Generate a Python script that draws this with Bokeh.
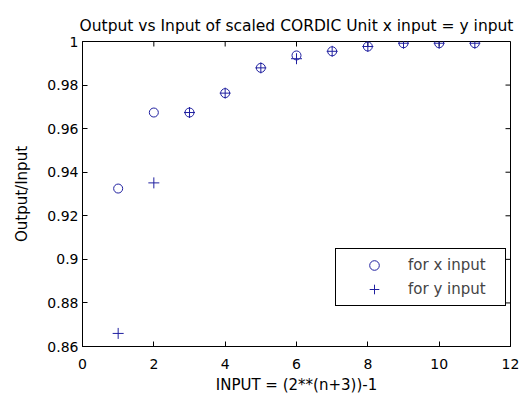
import math
from bokeh.plotting import figure
from bokeh.models import Range1d, FixedTicker, Legend, LegendItem
from bokeh.embed import file_html
from bokeh.resources import INLINE

# ---- data ----
n_values = [1, 2, 3, 4, 5, 6, 7, 8, 9, 10, 11]
x_input_ratio = [0.9325, 0.9674, 0.9674, 0.9763, 0.9879, 0.9936, 0.9955, 0.9977, 0.9992, 0.9992, 0.9992]
y_input_ratio = [0.8660, 0.9351, 0.9674, 0.9763, 0.9879, 0.9921, 0.9955, 0.9977, 0.9992, 0.9992, 0.9992]

x_ticks = [0, 2, 4, 6, 8, 10, 12]
y_ticks = [0.86, 0.88, 0.90, 0.92, 0.94, 0.96, 0.98, 1.0]
y_tick_labels = ["0.86", "0.88", "0.9", "0.92", "0.94", "0.96", "0.98", "1"]

title_text = "Output vs Input of scaled CORDIC Unit x input = y input"
x_label = "INPUT = (2**(n+3))-1"
y_label = "Output/Input"
legend_labels = ["for x input", "for y input"]

FONT = "DejaVu Sans"
MARK = "#2020a0"

x_min, x_max = x_ticks[0], x_ticks[-1]
y_min, y_max = y_ticks[0], y_ticks[-1]

p = figure(width=519, height=396, output_backend="svg", toolbar_location=None,
           x_range=Range1d(x_min, x_max), y_range=Range1d(y_min, y_max),
           frame_width=428, frame_height=305,
           min_border_left=82, min_border_right=9, min_border_top=41, min_border_bottom=50,
           background_fill_color="white", border_fill_color="white")

p.title.text = title_text
p.title.text_font = FONT
p.title.text_font_size = "15.5px"
p.title.text_font_style = "normal"
p.title.text_color = "black"
p.title.align = "center"
p.title.standoff = 13

p.xgrid.visible = False
p.ygrid.visible = False
p.outline_line_color = "black"
p.outline_line_width = 1
p.outline_line_alpha = 1

def style_axis(ax):
    ax.axis_line_color = "black"
    ax.major_tick_line_color = "black"
    ax.minor_tick_line_color = None
    ax.major_tick_in = 5
    ax.major_tick_out = 0
    ax.major_label_text_font = FONT
    ax.major_label_text_font_size = "14px"
    ax.major_label_text_color = "black"
    ax.axis_label_text_font = FONT
    ax.axis_label_text_font_size = "15px"
    ax.axis_label_text_font_style = "normal"
    ax.axis_label_text_color = "black"

xa = p.xaxis[0]
ya = p.yaxis[0]
xa.ticker = FixedTicker(ticks=x_ticks)
ya.ticker = FixedTicker(ticks=y_ticks)
ya.major_label_overrides = {t: s for t, s in zip(y_ticks, y_tick_labels)}
style_axis(xa)
style_axis(ya)
xa.axis_label = x_label
ya.axis_label = y_label
xa.major_label_standoff = 12
xa.axis_label_standoff = 4
ya.major_label_standoff = 4
ya.axis_label_standoff = 13

# box ticks on the top and right edges (MATLAB style)
p.ray(x=x_ticks, y=[y_max] * len(x_ticks), length=5, length_units="screen",
      angle=-math.pi / 2, line_color="black", line_width=1)
p.ray(x=[x_max] * len(y_ticks), y=y_ticks, length=5, length_units="screen",
      angle=math.pi, line_color="black", line_width=1)

r1 = p.scatter(n_values, x_input_ratio, marker="circle", size=9,
               fill_color=None, line_color=MARK, line_width=1)
r2 = p.scatter(n_values, y_input_ratio, marker="cross", size=11,
               line_color=MARK, line_width=1)

legend = Legend(items=[LegendItem(label=legend_labels[0], renderers=[r1]),
                       LegendItem(label=legend_labels[1], renderers=[r2])],
                location=(253, 40),
                border_line_color="black", border_line_width=1, border_line_alpha=1,
                background_fill_color="white", background_fill_alpha=1,
                label_text_font=FONT, label_text_font_size="15px",
                padding=4, spacing=0, glyph_width=68, glyph_height=24,
                label_height=24, label_width=93, label_standoff=0, margin=0)
p.add_layout(legend, "center")

open("out.html", "w").write(file_html(p, INLINE))
